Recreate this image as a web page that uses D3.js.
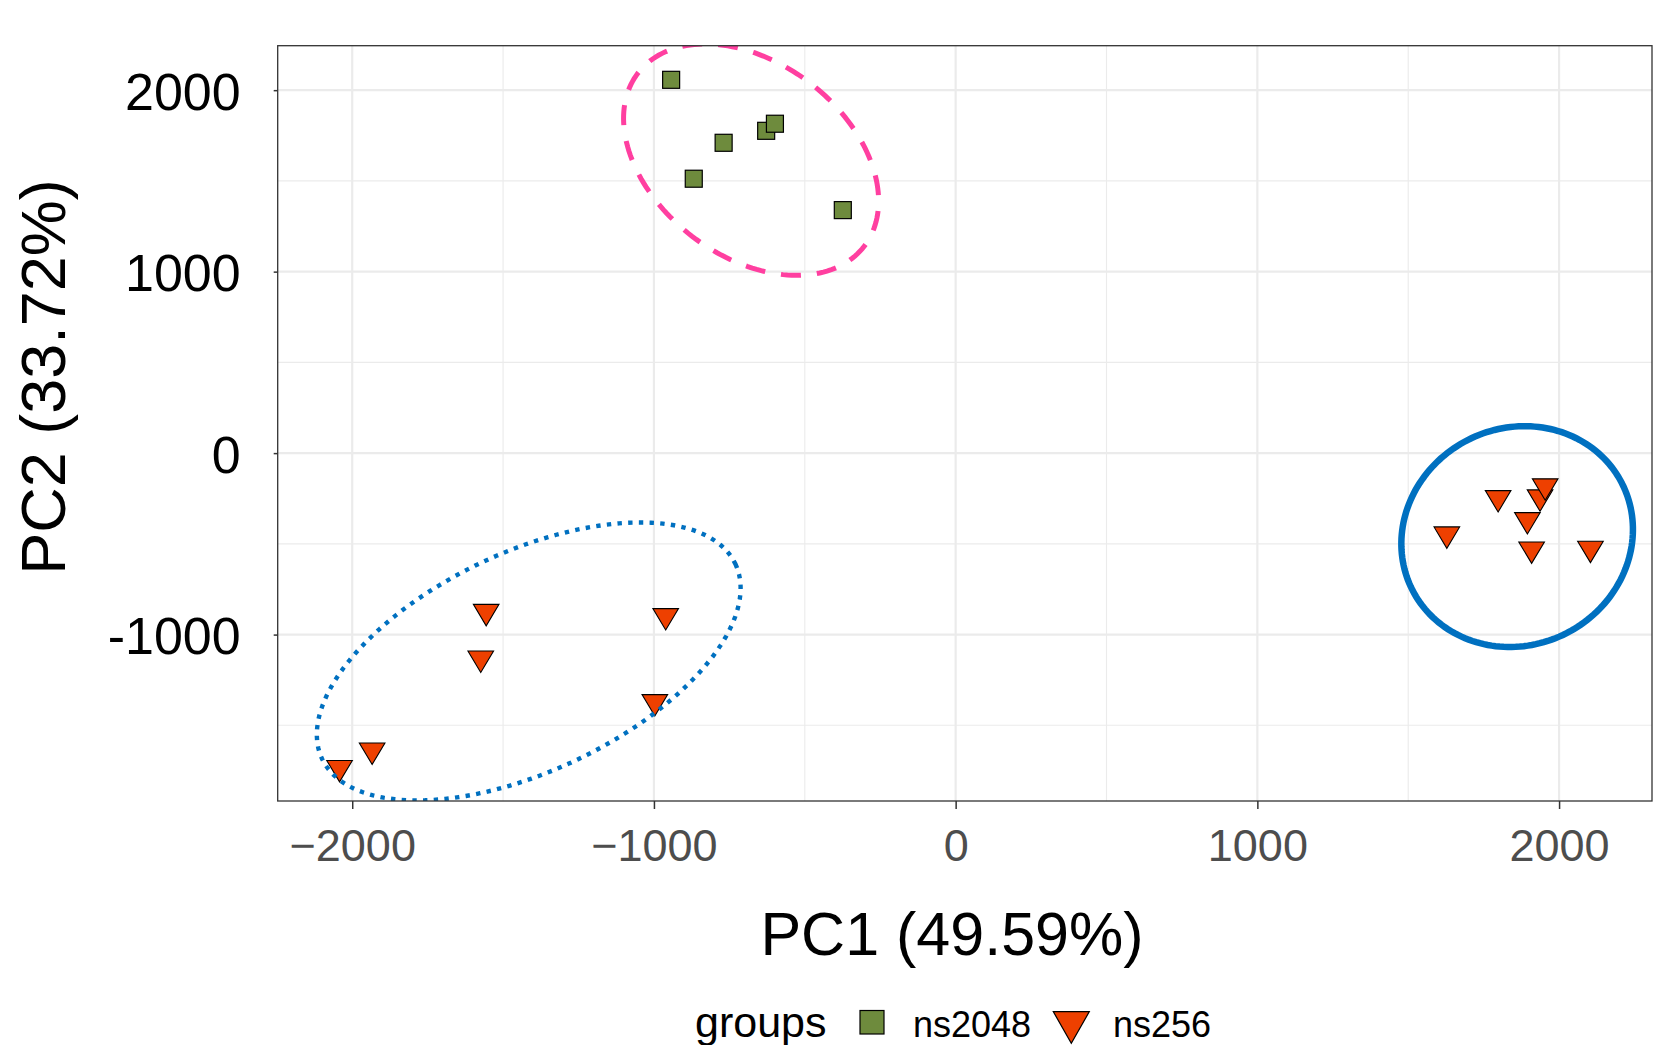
<!DOCTYPE html>
<html>
<head>
<meta charset="utf-8">
<script src="https://cdn.jsdelivr.net/npm/d3@7"></script>
<style>
  body { margin: 0; background: #fff; }
  text { font-family: "Liberation Sans", Arial, sans-serif; }
</style>
</head>
<body>
<svg id="chart"></svg>
<script>
// samples
const groups = ['ns2048', 'ns2048', 'ns2048', 'ns2048', 'ns2048', 'ns2048',
    'ns256', 'ns256', 'ns256', 'ns256', 'ns256', 'ns256',
    'ns256', 'ns256', 'ns256', 'ns256', 'ns256', 'ns256', 'ns256'];
const pc1 = [-943, -769, -628, -599, -868, -374,
    -1556, -1574, -961, -997, -1934, -2042,
    1937, 1954, 1798, 1628, 1895, 1909, 2104];
const pc2 = [2057, 1710, 1776, 1815, 1512, 1339,
    -873, -1130, -896, -1370, -1637, -1733,
    -242, -181, -246, -446, -367, -529, -525];

const groupNames = ['ns2048', 'ns256'];
const xTicks = [-2000, -1000, 0, 1000, 2000];
const yTicks = [-1000, 0, 1000, 2000];
const xMinor = [-1500, -500, 500, 1500];
const yMinor = [-1500, -500, 500, 1500];

// ellipses: centre and two conjugate half-axes, in data units
const ellipseNames = ['pink', 'dotted', 'solid'];
const ellipseCx = [-678, -1415, 1861];
const ellipseCy = [1617, -1148, -460];
const ellipseAx = [375, 685, 347];
const ellipseAy = [-477, 537, 295];
const ellipseBx = [-195, 155, 164];
const ellipseBy = [-423, -546, -532];

const width = 1679;
const height = 1045;
const panel = {left: 277.7, right: 1652, top: 45.7, bottom: 801};

const fillColor = {ns2048: '#6E8B3D', ns256: '#EE4000'};
const ellipseStyle = {
    pink: {stroke: '#FF3FA0', width: 5, dash: '20,16'},
    dotted: {stroke: '#0070C0', width: 4.4, dash: '4.4,6.3'},
    solid: {stroke: '#0070C0', width: 6.5, dash: null}
};

const svg = d3.select('#chart')
    .attr('width', width)
    .attr('height', height)
    .style('background-color', 'white');

const x = d3.scaleLinear().domain([-2247, 2308]).range([panel.left, panel.right]);
const y = d3.scaleLinear().domain([-1917, 2245]).range([panel.bottom, panel.top]);

svg.append('defs').append('clipPath').attr('id', 'clip')
    .append('rect')
    .attr('x', panel.left).attr('y', panel.top)
    .attr('width', panel.right - panel.left)
    .attr('height', panel.bottom - panel.top);

// grid
const grid = svg.append('g');
grid.selectAll('.vminor').data(xMinor).enter().append('line')
    .attr('x1', d => x(d)).attr('x2', d => x(d))
    .attr('y1', panel.top).attr('y2', panel.bottom)
    .attr('stroke', '#ebebeb').attr('stroke-width', 1.1);
grid.selectAll('.hminor').data(yMinor).enter().append('line')
    .attr('y1', d => y(d)).attr('y2', d => y(d))
    .attr('x1', panel.left).attr('x2', panel.right)
    .attr('stroke', '#ebebeb').attr('stroke-width', 1.1);
grid.selectAll('.vmajor').data(xTicks).enter().append('line')
    .attr('x1', d => x(d)).attr('x2', d => x(d))
    .attr('y1', panel.top).attr('y2', panel.bottom)
    .attr('stroke', '#ebebeb').attr('stroke-width', 2.2);
grid.selectAll('.hmajor').data(yTicks).enter().append('line')
    .attr('y1', d => y(d)).attr('y2', d => y(d))
    .attr('x1', panel.left).attr('x2', panel.right)
    .attr('stroke', '#ebebeb').attr('stroke-width', 2.2);

// points
const points = groups.map((g, i) => ({group: g, x: pc1[i], y: pc2[i]}));
const triPath = (w, h) => `M${-w / 2},${-h / 3}L${w / 2},${-h / 3}L0,${2 * h / 3}Z`;

const plot = svg.append('g').attr('clip-path', 'url(#clip)');
points.forEach(p => {
    if (p.group === 'ns2048') {
        plot.append('rect')
            .attr('x', x(p.x) - 8.5).attr('y', y(p.y) - 8.5)
            .attr('width', 17).attr('height', 17)
            .attr('fill', fillColor.ns2048)
            .attr('stroke', 'black').attr('stroke-width', 1.2);
    } else {
        plot.append('path')
            .attr('d', triPath(25.6, 21.4))
            .attr('transform', `translate(${x(p.x)},${y(p.y)})`)
            .attr('fill', fillColor.ns256)
            .attr('stroke', 'black').attr('stroke-width', 1.1);
    }
});

// ellipses
const tSteps = d3.range(0, 361, 2).map(d => d * Math.PI / 180);
const line = d3.line();
ellipseNames.forEach((name, i) => {
    const pts = tSteps.map(t => [
        x(ellipseCx[i] + ellipseAx[i] * Math.cos(t) + ellipseBx[i] * Math.sin(t)),
        y(ellipseCy[i] + ellipseAy[i] * Math.cos(t) + ellipseBy[i] * Math.sin(t))
    ]);
    const st = ellipseStyle[name];
    plot.append('path')
        .attr('d', line(pts) + 'Z')
        .attr('fill', 'none')
        .attr('stroke', st.stroke)
        .attr('stroke-width', st.width)
        .attr('stroke-dasharray', st.dash);
});

// panel border
svg.append('rect')
    .attr('x', panel.left).attr('y', panel.top)
    .attr('width', panel.right - panel.left)
    .attr('height', panel.bottom - panel.top)
    .attr('fill', 'none').attr('stroke', '#333333').attr('stroke-width', 1.3);

// axes
const xAxis = svg.append('g')
    .attr('transform', `translate(0,${panel.bottom})`)
    .call(d3.axisBottom(x).tickValues(xTicks).tickFormat(d3.format('d')).tickSize(8).tickPadding(20));
xAxis.select('.domain').remove();
xAxis.selectAll('line').attr('stroke', '#333333').attr('stroke-width', 1.5);
xAxis.selectAll('text')
    .attr('fill', '#4d4d4d')
    .style('font-size', '45px')
    .style('font-family', '"Liberation Sans", Arial, sans-serif');

const yAxis = svg.append('g')
    .attr('transform', `translate(${panel.left},0)`)
    .call(d3.axisLeft(y).tickValues(yTicks).tickFormat(d => String(d)).tickSize(4).tickPadding(33));
yAxis.select('.domain').remove();
yAxis.selectAll('line').attr('stroke', '#333333').attr('stroke-width', 1.5);
yAxis.selectAll('text')
    .attr('fill', 'black')
    .attr('dy', '0.37em')
    .style('font-size', '52px')
    .style('font-family', '"Liberation Sans", Arial, sans-serif');

// axis titles
svg.append('text')
    .attr('x', 952).attr('y', 955)
    .attr('text-anchor', 'middle')
    .style('font-size', '61px')
    .text('PC1 (49.59%)');

svg.append('text')
    .attr('transform', 'translate(65,377) rotate(-90)')
    .attr('text-anchor', 'middle')
    .style('font-size', '63px')
    .text('PC2 (33.72%)');

// legend
const legend = svg.append('g');
legend.append('text')
    .attr('x', 695).attr('y', 1037)
    .style('font-size', '43px')
    .text('groups');
legend.append('rect')
    .attr('x', 860).attr('y', 1010.5)
    .attr('width', 24).attr('height', 23.5)
    .attr('fill', fillColor.ns2048)
    .attr('stroke', 'black').attr('stroke-width', 1.2);
legend.append('text')
    .attr('x', 913).attr('y', 1037)
    .style('font-size', '36px')
    .text(groupNames[0]);
legend.append('path')
    .attr('d', triPath(36, 31.6))
    .attr('transform', 'translate(1071.3,1022.2)')
    .attr('fill', fillColor.ns256)
    .attr('stroke', 'black').attr('stroke-width', 1.2);
legend.append('text')
    .attr('x', 1113).attr('y', 1037)
    .style('font-size', '36px')
    .text(groupNames[1]);
</script>
</body>
</html>
